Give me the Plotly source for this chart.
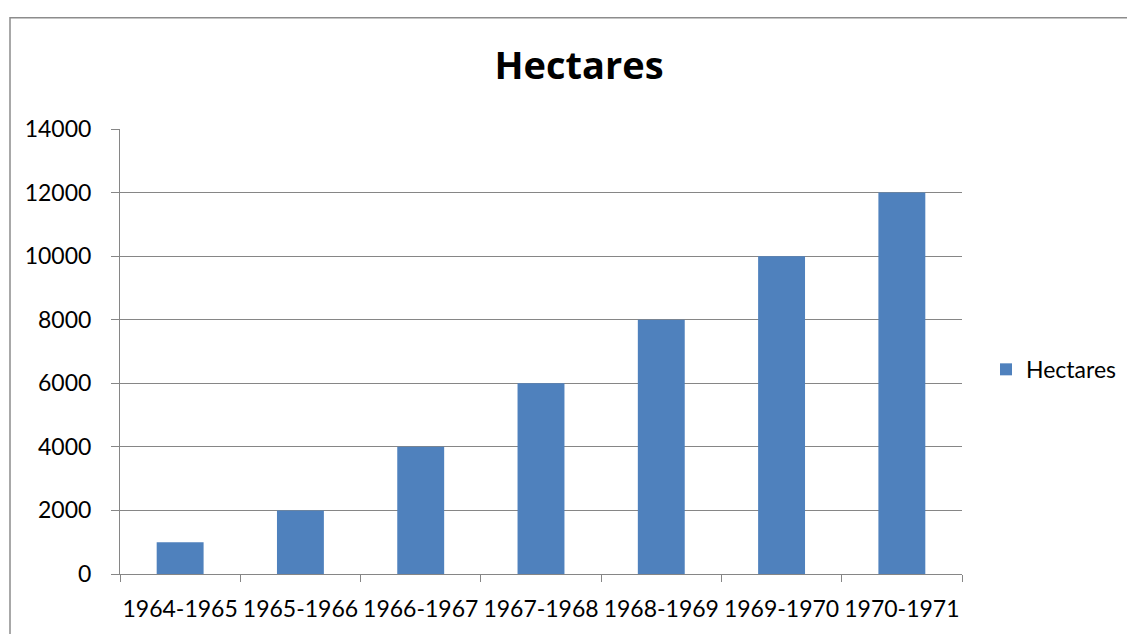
import plotly.graph_objects as go

categories = ["1964-1965", "1965-1966", "1966-1967", "1967-1968", "1968-1969", "1969-1970", "1970-1971"]
hectares = [1000, 2000, 4000, 6000, 8000, 10000, 12000]
series_name = "Hectares"
y_ticks = [0, 2000, 4000, 6000, 8000, 10000, 12000, 14000]

# page is rendered with an 8px body margin, so work in page pixels and shift
OFF = 8
W, H = 1135 - OFF, 634 - OFF
L, R, T, B = 120 - OFF, 962 - OFF, 129 - OFF, 577 - OFF

def px_x(p):
    return (p - OFF - L) / (R - L)

def px_y(p):
    return (B - (p - OFF)) / (B - T)

FONT = "Lato"
GRID = "#868686"

fig = go.Figure()
fig.add_trace(go.Bar(
    x=categories, y=hectares, name=series_name,
    marker=dict(color="#4F81BD", line=dict(width=0)),
    showlegend=True,
))

fig.update_layout(
    width=W, height=H,
    margin=dict(l=L, r=W - R, t=T, b=H - B, pad=0),
    paper_bgcolor="white", plot_bgcolor="white",
    bargap=0.61,
    title=dict(text="<b>Hectares</b>", x=(579 - OFF) / W, xref="container", xanchor="center",
               y=1 - (66 - OFF) / H, yref="container", yanchor="middle",
               font=dict(family="Open Sans", size=38, color="black")),
    font=dict(family=FONT, color="black"),
    showlegend=True,
    legend=dict(x=px_x(986), y=px_y(371), xanchor="left", yanchor="middle",
                font=dict(family=FONT, size=23, color="black"),
                bgcolor="rgba(0,0,0,0)"),
    xaxis=dict(
        type="category", tickson="boundaries", ticks="outside", ticklen=7,
        tickcolor=GRID, tickwidth=1, tickangle=0, ticklabelstandoff=14,
        showline=True, linecolor=GRID, linewidth=1,
        showgrid=False, tickfont=dict(family=FONT, size=23, color="black"),
        range=[-0.5, len(categories) - 0.5],
    ),
    yaxis=dict(
        range=[0, 14000], tickvals=y_ticks, ticktext=[str(v) for v in y_ticks],
        ticks="outside", ticklen=8, tickcolor=GRID, tickwidth=1, ticklabelstandoff=15,
        showline=True, linecolor=GRID, linewidth=1,
        showgrid=True, gridcolor=GRID, gridwidth=1, zeroline=False,
        tickfont=dict(family=FONT, size=23, color="black"),
    ),
    shapes=[dict(
        type="rect", xref="paper", yref="paper",
        x0=px_x(10), x1=px_x(1150), y0=px_y(650), y1=px_y(17),
        line=dict(color="#8c8c8c", width=1.5), fillcolor="rgba(0,0,0,0)", layer="below",
    )],
)

fig.write_html("out.html")
